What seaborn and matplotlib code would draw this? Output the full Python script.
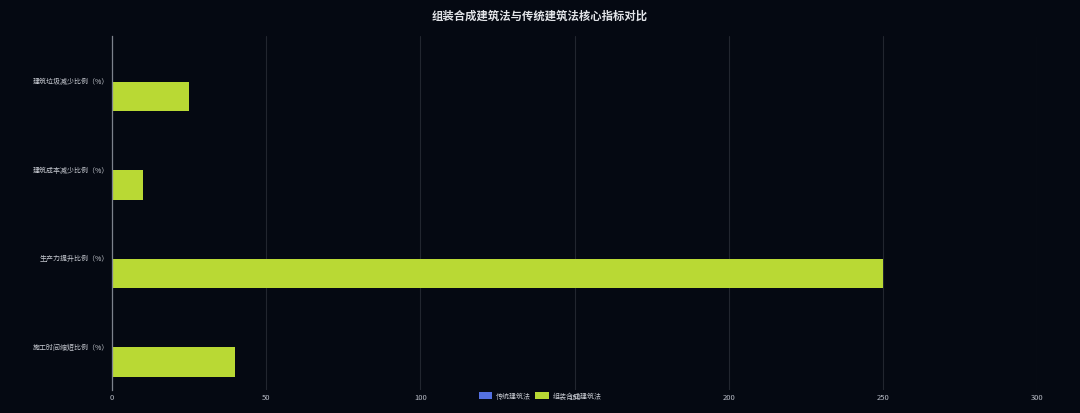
import matplotlib
matplotlib.use("Agg")
import matplotlib.pyplot as plt
import seaborn as sns
import pandas as pd
from matplotlib.patches import Patch

categories = ["建筑垃圾减少比例（%）", "建筑成本减少比例（%）", "生产力提升比例（%）", "施工时间缩短比例（%）"]
series_names = ["传统建筑法", "组装合成建筑法"]
traditional = [0, 0, 0, 0]
assembled = [25, 10, 250, 40]
x_ticks = [0, 50, 100, 150, 200, 250, 300]

title = "组装合成建筑法与传统建筑法核心指标对比"
colors = ["#5470e0", "#b9d934"]
bg = "#050912"

rows = []
for c, v in zip(categories, traditional):
    rows.append({"category": c, "method": series_names[0], "value": v})
for c, v in zip(categories, assembled):
    rows.append({"category": c, "method": series_names[1], "value": v})
df = pd.DataFrame(rows)

sns.set_theme(style="dark")
plt.rcParams["font.family"] = ["Noto Sans CJK SC", "DejaVu Sans"]

fig = plt.figure(figsize=(10.8, 4.14), dpi=100, facecolor=bg)
ax = fig.add_axes([112 / 1080, 1 - 391 / 414, (1037 - 112) / 1080, (391 - 37) / 414])
ax.set_facecolor(bg)

sns.barplot(data=df, y="category", x="value", hue="method", order=categories,
            hue_order=series_names, palette=colors, orient="h", width=0.74, gap=0.1,
            ax=ax, legend=False, saturation=1, linewidth=0)

ax.set_xlim(0, 300)
ax.set_ylim(3.5, -0.5)
ax.set_xticks(x_ticks)
ax.set_xticklabels([str(t) for t in x_ticks], fontsize=5.5, color="#b8bcc6")
ax.tick_params(axis="x", length=0, pad=2.5)
ax.tick_params(axis="y", length=0, pad=2, labelsize=5, labelcolor="#c8cbd2")
ax.set_xlabel("")
ax.set_ylabel("")
ax.grid(axis="x", color="#22262f", linewidth=0.8)
ax.grid(axis="y", visible=False)
ax.set_axisbelow(True)
for s in ["top", "right", "bottom"]:
    ax.spines[s].set_visible(False)
ax.spines["left"].set_color("#7d828c")
ax.spines["left"].set_linewidth(0.9)

fig.text(0.5, 1 - 16 / 414, title, ha="center", va="center", fontsize=8.2,
         fontweight="bold", color="#e2e4e8")

handles = [Patch(facecolor=colors[0], edgecolor="none"), Patch(facecolor=colors[1], edgecolor="none")]
leg = fig.legend(handles, series_names, loc="center", bbox_to_anchor=(0.5, 1 - 397 / 414),
                 ncol=2, frameon=False, fontsize=5, handlelength=2.0, handleheight=1.2,
                 columnspacing=0.6, handletextpad=0.5)
for t in leg.get_texts():
    t.set_color("#c8cbd2")

fig.savefig("out.png", dpi=100, facecolor=bg)
